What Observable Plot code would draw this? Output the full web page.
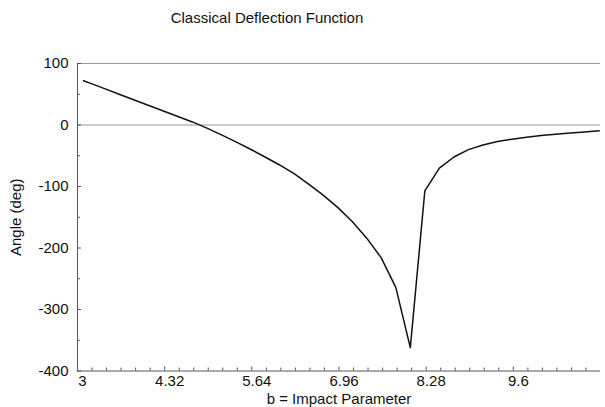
<!DOCTYPE html>
<html>
<head>
<meta charset="utf-8">
<script src="https://cdn.jsdelivr.net/npm/d3@7"></script>
<script src="https://cdn.jsdelivr.net/npm/@observablehq/plot@0.6"></script>
<style>
  html, body { margin: 0; padding: 0; background: #fff; }
  body { width: 605px; height: 407px; overflow: hidden; font-family: "Liberation Sans", Arial, sans-serif; }
  #title { position: relative; height: 40px; }
  #title span { position: absolute; left: 267px; top: 9px; transform: translateX(-50%); font-size: 15px; color: #111; white-space: nowrap; }
</style>
</head>
<body>
<div id="title"><span>Classical Deflection Function</span></div>
<div id="chart"></div>
<script>
// Impact parameter samples (b) and deflection angles (deg)
const impactParameter = [3.09, 3.20, 3.42, 3.64, 3.86, 4.08, 4.30, 4.52, 4.74, 4.96,
  5.18, 5.40, 5.62, 5.84, 6.06, 6.28, 6.50, 6.72, 6.94, 7.16,
  7.38, 7.60, 7.82, 8.04, 8.26, 8.48, 8.70, 8.92, 9.14, 9.36,
  9.58, 9.80, 10.02, 10.24, 10.46, 10.68, 10.90];
const angleDeg = [72, 67.7, 58.7, 49.6, 40.6, 31.6, 22.7, 13.8, 5, -5,
  -16, -27.5, -39.5, -52, -65, -79, -96, -114, -134, -157,
  -184, -216, -264, -362, -107, -70, -52, -40, -32.5, -26.8,
  -23.1, -20, -17, -15, -13, -11.2, -9.5];

const xMajorTicks = [3, 4.32, 5.64, 6.96, 8.28, 9.6];
const xMinorTicks = [3.22, 3.44, 3.66, 3.88, 4.10, 4.54, 4.76, 4.98, 5.20, 5.42,
  5.86, 6.08, 6.30, 6.52, 6.74, 7.18, 7.40, 7.62, 7.84, 8.06,
  8.50, 8.72, 8.94, 9.16, 9.38, 9.82, 10.04, 10.26, 10.48, 10.70];
const yMajorTicks = [-400, -300, -200, -100, 0, 100];
const yMinorTicks = [-350, -250, -150, -50, 50];
const refLines = [0, 100];

const xDomain = [3, 10.92];
const yDomain = [-400, 100];

const data = impactParameter.map((b, i) => ({b, angle: angleDeg[i]}));

const axisColor = "#555";

const chart = Plot.plot({
  width: 605,
  height: 367,
  marginTop: 23,
  marginBottom: 36.5,
  marginLeft: 77,
  marginRight: 5,
  style: {fontFamily: "'Liberation Sans', Arial, sans-serif", fontSize: "15px", color: "#111", background: "#fff"},
  x: {domain: xDomain},
  y: {domain: yDomain},
  marks: [
    Plot.ruleY(refLines, {stroke: "#999", strokeWidth: 1}),
    Plot.ruleY([yDomain[0]], {stroke: axisColor, strokeWidth: 1}),
    Plot.ruleX([xDomain[0]], {stroke: axisColor, strokeWidth: 1}),
    Plot.axisX({ticks: xMinorTicks, tickSize: -3, text: null, label: null, stroke: axisColor}),
    Plot.axisX({ticks: xMajorTicks, tickSize: -4, text: null, label: null, stroke: axisColor}),
    Plot.axisX({ticks: xMajorTicks, tickSize: 0, tickPadding: 4.8, dx: 5, tickFormat: d => String(d), label: null, fontSize: 15}),
    Plot.axisY({ticks: yMinorTicks, tickSize: -3, text: null, label: null, stroke: axisColor}),
    Plot.axisY({ticks: yMajorTicks, tickSize: -4, text: null, label: null, stroke: axisColor}),
    Plot.axisY({ticks: yMajorTicks, tickSize: 0, tickPadding: 9, tickFormat: d => String(d), label: null, fontSize: 15}),
    Plot.line(data, {x: "b", y: "angle", stroke: "#111", strokeWidth: 1.5}),
    Plot.text(["b = Impact Parameter"], {frameAnchor: "bottom", dy: 32.5, dx: 0, lineAnchor: "bottom", fontSize: 15, fill: "#111"}),
    Plot.text(["Angle (deg)"], {frameAnchor: "left", dx: -61, dy: 0, rotate: -90, textAnchor: "middle", lineAnchor: "middle", fontSize: 15, fill: "#111"})
  ]
});
document.getElementById("chart").appendChild(chart);
</script>
</body>
</html>
